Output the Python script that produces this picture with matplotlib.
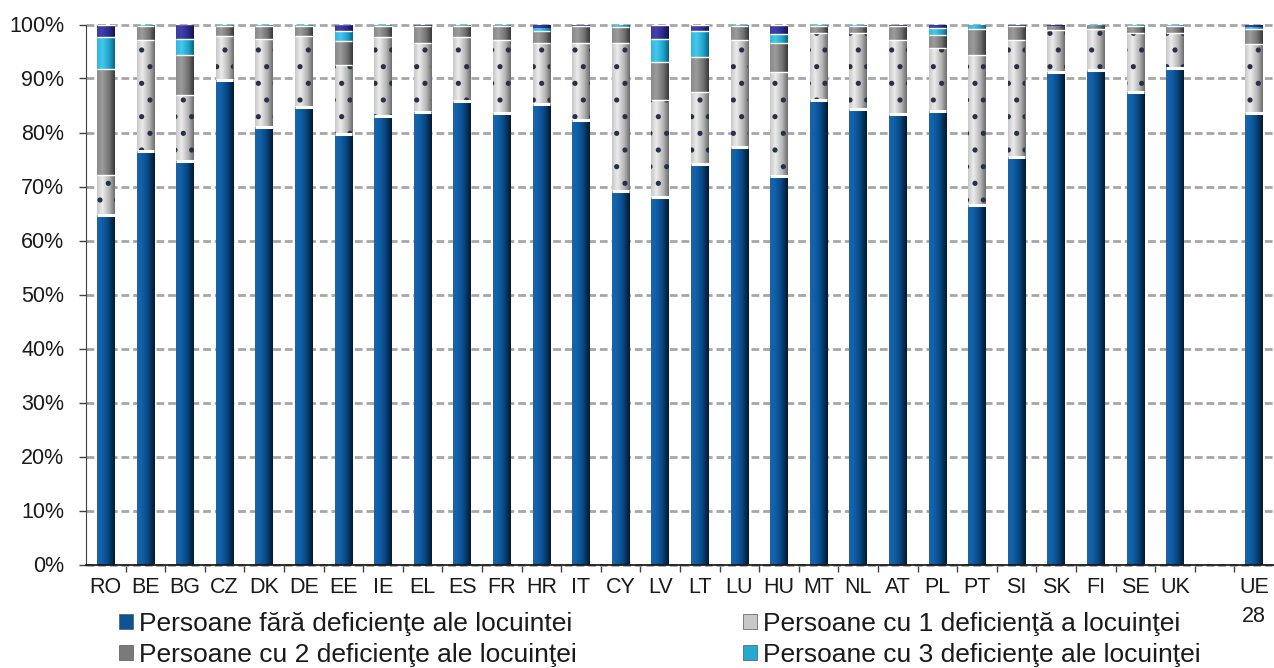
import numpy as np
import matplotlib
matplotlib.use("Agg")
import matplotlib.pyplot as plt
from matplotlib.colors import LinearSegmentedColormap
from matplotlib.patches import Patch

plt.rcParams['font.family'] = ['Liberation Sans', 'DejaVu Sans']
plt.rcParams['hatch.linewidth'] = 1.3

countries = ['RO', 'BE', 'BG', 'CZ', 'DK', 'DE', 'EE', 'IE', 'EL', 'ES', 'FR', 'HR',
             'IT', 'CY', 'LV', 'LT', 'LU', 'HU', 'MT', 'NL', 'AT', 'PL', 'PT', 'SI',
             'SK', 'FI', 'SE', 'UK', '', 'UE\n28']

# Share of persons (%) by number of housing deficiencies
fara_deficiente = [64.7, 76.6, 74.7, 89.7, 81.0, 84.7, 79.7, 83.1, 83.8, 85.9, 83.7, 85.2,
                   82.3, 69.1, 68.0, 74.1, 77.3, 71.9, 86.0, 84.3, 83.5, 83.9, 66.6, 75.5,
                   91.2, 91.5, 87.5, 92.0, 0.0, 83.6]
o_deficienta = [7.5, 20.5, 12.2, 8.2, 16.3, 13.2, 12.8, 14.5, 12.7, 11.7, 13.4, 11.3,
                14.3, 27.4, 18.0, 13.4, 19.8, 19.3, 12.5, 14.1, 13.7, 11.7, 27.8, 21.6,
                7.7, 7.6, 11.0, 6.5, 0.0, 12.7]
doua_deficiente = [19.5, 2.6, 7.5, 1.9, 2.5, 1.9, 4.4, 2.2, 3.2, 2.2, 2.6, 2.3,
                   3.1, 3.1, 7.1, 6.5, 2.6, 5.3, 1.3, 1.4, 2.5, 2.5, 4.7, 2.6,
                   0.8, 0.7, 1.3, 1.3, 0.0, 2.8]
trei_deficiente = [6.0, 0.2, 2.9, 0.1, 0.1, 0.1, 1.9, 0.1, 0.1, 0.1, 0.2, 0.6,
                   0.1, 0.3, 4.3, 4.8, 0.2, 1.8, 0.1, 0.1, 0.1, 1.2, 0.8, 0.1,
                   0.1, 0.1, 0.1, 0.1, 0.0, 0.5]
patru_deficiente = [2.3, 0.1, 2.7, 0.1, 0.1, 0.1, 1.2, 0.1, 0.2, 0.1, 0.1, 0.6,
                    0.2, 0.1, 2.6, 1.2, 0.1, 1.7, 0.1, 0.1, 0.2, 0.7, 0.1, 0.2,
                    0.2, 0.1, 0.1, 0.1, 0.0, 0.4]

legend_labels = ['Persoane fără deficienţe ale locuintei',
                 'Persoane cu 1 deficienţă a locuinţei',
                 'Persoane cu 2 deficienţe ale locuinţei',
                 'Persoane cu 3 deficienţe ale locuinţei']

y_ticks = list(range(0, 101, 10))
y_tick_labels = [f'{v}%' for v in y_ticks]

# Shaded (cylinder-like) colour ramps, left edge -> right edge
def ramp(name, stops):
    return LinearSegmentedColormap.from_list(name, stops)

styles = [
    dict(vals=fara_deficiente, base='#0b5394',
         cmap=ramp('blue', [(0, '#1f63a3'), (0.25, '#0f62ad'), (0.6, '#0a4a86'), (1, '#03182f')]),
         hatch=None),
    dict(vals=o_deficienta, base='#c4c4c4',
         cmap=ramp('light', [(0, '#c8c8c8'), (0.3, '#ececec'), (0.7, '#b4b4b4'), (1, '#6c6c6c')]),
         hatch='.'),
    dict(vals=doua_deficiente, base='#7a7a7a',
         cmap=ramp('dark', [(0, '#8a8a8a'), (0.3, '#9c9c9c'), (0.7, '#717171'), (1, '#383838')]),
         hatch=None),
    dict(vals=trei_deficiente, base='#22aad3',
         cmap=ramp('cyan', [(0, '#2fb6de'), (0.3, '#45c8ec'), (0.7, '#1ea2ca'), (1, '#0b6384')]),
         hatch=None),
    dict(vals=patru_deficiente, base='#2a2a8a',
         cmap=ramp('navy', [(0, '#3b3ba0'), (0.3, '#4040ad'), (0.7, '#2a2a88'), (1, '#14144c')]),
         hatch=None),
]

W, H = 1274, 668
fig = plt.figure(figsize=(W / 100, H / 100), dpi=100)
ax = fig.add_axes([86 / W, 1 - 564.5 / H, (W - 86) / W, 540 / H])

x = np.arange(len(countries))
width = 0.44
grad = np.linspace(0, 1, 64).reshape(1, -1)
bottom = np.zeros(len(countries))

for st in styles:
    vals = np.asarray(st['vals'], dtype=float)
    bars = ax.bar(x, vals, width, bottom=bottom, color=st['base'], linewidth=0, zorder=2)
    for rect in bars:
        h = rect.get_height()
        if h <= 0:
            continue
        x0, y0, w = rect.get_x(), rect.get_y(), rect.get_width()
        ax.imshow(grad, cmap=st['cmap'], extent=[x0, x0 + w, y0, y0 + h],
                  aspect='auto', interpolation='bilinear', zorder=2.1)
    if st['hatch']:
        ax.bar(x, vals, width, bottom=bottom, color='none', edgecolor='#26304a',
               hatch=st['hatch'], linewidth=0, zorder=2.2)
    bottom = bottom + vals
    # white seam on top of each segment
    keep = vals > 1.0
    lw = 2.2 if st is styles[0] else 1.0
    ax.hlines(bottom[keep], x[keep] - width / 2, x[keep] + width / 2,
              colors='white', linewidth=lw, zorder=2.3)

ax.set_xlim(-0.5, len(countries) - 0.5)
ax.set_ylim(0, 100)

ax.set_axisbelow(True)
ax.yaxis.grid(True, color='#a6a6a6', linewidth=2.0, linestyle=(0, (2.8, 1.4)))
for gl in ax.get_ygridlines():
    gl.set_clip_on(False)

ax.set_yticks(y_ticks)
ax.set_yticklabels(y_tick_labels, fontsize=15.5, color='#1a1a1a')
ax.tick_params(axis='y', direction='out', length=5, width=1, color='#404040', pad=10.5)

ax.set_xticks(x)
ax.set_xticklabels(countries, fontsize=15.5, color='#1a1a1a', linespacing=1.5)
ax.tick_params(axis='x', which='major', length=0, pad=9)
ax.set_xticks(x[:-1] + 0.5, minor=True)
ax.tick_params(axis='x', which='minor', direction='out', length=5, width=1, color='#404040')

for side in ('top', 'right'):
    ax.spines[side].set_visible(False)
ax.spines['left'].set_color('#404040')
ax.spines['bottom'].set_color('#111111')
ax.spines['bottom'].set_linewidth(1.2)
ax.spines['bottom'].set_zorder(3)

handle_colors = ['#0b5394', '#c8c8c8', '#7a7a7a', '#22aad3']
handles = [Patch(facecolor=c, edgecolor='#555555', linewidth=0.5) for c in handle_colors]
leg_kw = dict(frameon=False, fontsize=19, handlelength=0.52, handleheight=0.52,
              handletextpad=0.25, borderpad=0, borderaxespad=0, labelspacing=0.25,
              loc='upper left')
leg1 = fig.legend([handles[0], handles[2]], [legend_labels[0], legend_labels[2]],
                  bbox_to_anchor=(119 / W, 1 - 612 / H), **leg_kw)
leg2 = fig.legend([handles[1], handles[3]], [legend_labels[1], legend_labels[3]],
                  bbox_to_anchor=(743 / W, 1 - 612 / H), **leg_kw)
for lg in (leg1, leg2):
    for t in lg.get_texts():
        t.set_color('#1a1a1a')

fig.savefig('out.png', dpi=100, facecolor='white')
